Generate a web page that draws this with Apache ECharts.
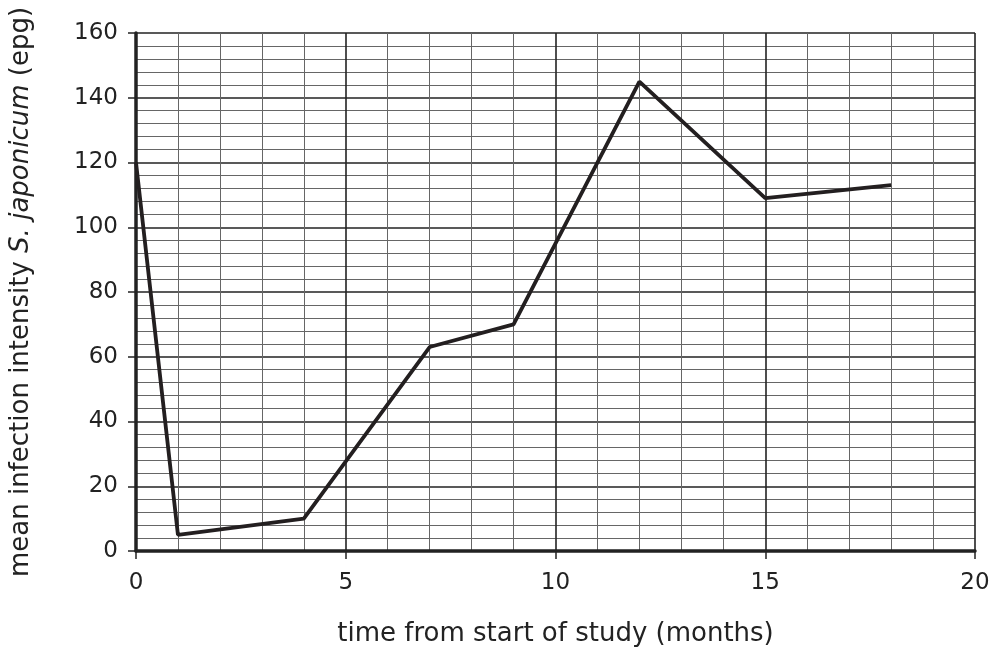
<!DOCTYPE html>
<html>
<head>
<meta charset="utf-8">
<script src="https://cdn.jsdelivr.net/npm/echarts@6/dist/echarts.min.js"></script>
<style>html,body{margin:0;padding:0;background:#fff}#c{width:997px;height:651px}</style>
</head>
<body>
<div id="c"></div>
<script>
var months = [0, 1, 4, 7, 9, 12, 15, 18];
var intensity = [120, 5, 10, 63, 70, 145, 109, 113];
var xTicks = [0, 5, 10, 15, 20];
var yTicks = [0, 20, 40, 60, 80, 100, 120, 140, 160];

var chart = echarts.init(document.getElementById('c'));
var font = 'DejaVu Sans';
var fsTick = 23;
var fsName = 26;
chart.setOption({
  animation: false,
  grid: {left: 136, right: 22, top: 33, bottom: 100, outerBoundsMode: 'none', containLabel: false},
  xAxis: {
    type: 'value', min: xTicks[0], max: xTicks[xTicks.length - 1], interval: 5,
    name: 'time from start of study (months)', nameLocation: 'middle', nameGap: 70,
    nameTextStyle: {fontFamily: font, fontSize: fsName, color: '#222'},
    axisLine: {show: true, onZero: false, lineStyle: {color: '#222', width: 3.5}},
    axisTick: {show: true, length: 8, lineStyle: {color: '#222', width: 1.5}},
    axisLabel: {fontFamily: font, fontSize: fsTick, color: '#222', margin: 21},
    splitLine: {show: true, lineStyle: {color: '#222', width: 1.6}},
    minorTick: {show: false, splitNumber: 5},
    minorSplitLine: {show: true, lineStyle: {color: '#666', width: 1}}
  },
  yAxis: {
    type: 'value', min: yTicks[0], max: yTicks[yTicks.length - 1], interval: 20,
    name: '{a|mean infection intensity }{b|S. japonicum}{a| (epg)}', nameLocation: 'middle', nameGap: 102,
    nameTextStyle: {rich: {
      a: {fontFamily: font, fontSize: fsName, color: '#222'},
      b: {fontFamily: font, fontSize: fsName, color: '#222', fontStyle: 'italic'}
    }},
    axisLine: {show: true, onZero: false, lineStyle: {color: '#222', width: 3.5}},
    axisTick: {show: true, length: 8, lineStyle: {color: '#222', width: 1.5}},
    axisLabel: {fontFamily: font, fontSize: fsTick, color: '#222', margin: 18},
    splitLine: {show: true, lineStyle: {color: '#222', width: 1.6}},
    minorTick: {show: false, splitNumber: 5},
    minorSplitLine: {show: true, lineStyle: {color: '#666', width: 1}}
  },
  series: [{
    type: 'line',
    data: months.map(function (m, i) { return [m, intensity[i]]; }),
    showSymbol: false, symbol: 'none',
    lineStyle: {color: '#231f20', width: 3.8},
    z: 5
  }]
});
</script>
</body>
</html>
